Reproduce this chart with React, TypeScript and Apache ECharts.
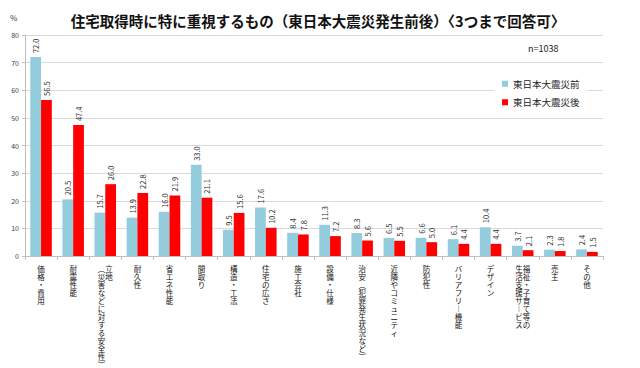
import React, { useEffect, useRef } from "react";
import * as echarts from "echarts";

const titleText = "住宅取得時に特に重視するもの（東日本大震災発生前後）〈3つまで回答可〉";
const sampleNote = "n=1038";
const unitLabel = "%";
const seriesNames = ["東日本大震災前", "東日本大震災後"];
const categories = [
  "価格・費用",
  "耐震性能",
  "立地\n（災害などに対する安全性）",
  "耐久性",
  "省エネ性能",
  "間取り",
  "構造・工法",
  "住宅の広さ",
  "施工会社",
  "設備・仕様",
  "治安（犯罪発生状況など）",
  "近隣やコミュニティ",
  "防犯性",
  "バリアフリー機能",
  "デザイン",
  "福祉・子育て等の\n生活支援サービス",
  "売主",
  "その他",
];
const beforeValues = [72.0, 20.5, 15.7, 13.9, 16.0, 33.0, 9.5, 17.6, 8.4, 11.3, 8.3, 6.5, 6.6, 6.1, 10.4, 3.7, 2.3, 2.4];
const afterValues = [56.5, 47.4, 26.0, 22.8, 21.9, 21.1, 15.6, 10.2, 7.8, 7.2, 5.6, 5.5, 5.0, 4.4, 4.4, 2.1, 1.8, 1.5];

const verticalMap: Record<string, string> = {
  "（": "︵",
  "）": "︶",
  "ー": "︱",
};

function toVertical(label: string): string {
  const cols = label.split("\n").map((c) => Array.from(c).map((ch) => verticalMap[ch] || ch));
  const rows = Math.max(...cols.map((c) => c.length));
  const lines: string[] = [];
  for (let i = 0; i < rows; i++) {
    if (cols.length === 1) {
      lines.push(cols[0][i]);
    } else {
      const right = cols[0][i] || "　";
      const left = cols[1][i] || "　";
      lines.push(left + right);
    }
  }
  return lines.join("\n");
}

const FONT = "'Noto Sans CJK JP', 'Noto Sans', sans-serif";

export default function App() {
  const ref = useRef<HTMLDivElement>(null);
  useEffect(() => {
    if (!ref.current) return;
    const chart = echarts.init(ref.current, undefined, { renderer: "svg" });
    const valueLabel = {
      show: true,
      position: "top" as const,
      rotate: 90,
      align: "left" as const,
      verticalAlign: "middle" as const,
      distance: 4,
      fontSize: 7.5,
      color: "#333",
      fontFamily: FONT,
      formatter: (p: any) => Number(p.value).toFixed(1),
    };
    chart.setOption({
      animation: false,
      backgroundColor: "#fff",
      textStyle: { fontFamily: FONT },
      title: {
        text: titleText,
        left: 313,
        textAlign: "center",
        top: 8,
        textStyle: { fontSize: 14.5, fontWeight: "bold", color: "#111", fontFamily: FONT },
      },
      graphic: [
        {
          type: "text",
          left: 10,
          top: 13,
          style: { text: unitLabel, fontSize: 8, fill: "#444", fontFamily: FONT },
        },
        {
          type: "text",
          left: 528,
          top: 44,
          style: { text: sampleNote, fontSize: 9, fill: "#222", fontFamily: FONT },
        },
      ],
      legend: {
        orient: "vertical",
        left: 494,
        top: 74,
        data: seriesNames,
        icon: "rect",
        itemWidth: 6,
        itemHeight: 6,
        itemGap: 9,
        backgroundColor: "#fff",
        padding: [5, 8, 5, 8],
        textStyle: { fontSize: 9.5, color: "#222", fontFamily: FONT },
      },
      grid: { left: 25, right: 37, top: 35, bottom: 101, containLabel: false },
      xAxis: {
        type: "category",
        data: categories,
        axisLine: { lineStyle: { color: "#bfbfbf" } },
        axisTick: { show: true, length: 4, lineStyle: { color: "#bfbfbf" } },
        axisLabel: {
          interval: 0,
          rotate: 0,
          hideOverlap: false,
          fontSize: 7.5,
          lineHeight: 8,
          color: "#111",
          margin: 8,
          verticalAlign: "top",
          align: "center",
          fontFamily: FONT,
          formatter: (v: string) => toVertical(v),
        },
      },
      yAxis: {
        type: "value",
        min: 0,
        max: 80,
        interval: 10,
        axisLine: { show: true, lineStyle: { color: "#bfbfbf" } },
        axisTick: { show: true, length: 3, lineStyle: { color: "#bfbfbf" } },
        axisLabel: { fontSize: 7, color: "#444", margin: 6, fontFamily: FONT },
        splitLine: { lineStyle: { color: "#d9d9d9", width: 1 } },
      },
      series: [
        {
          name: seriesNames[0],
          type: "bar",
          data: beforeValues,
          barGap: "0%",
          barCategoryGap: "33%",
          itemStyle: { color: "#93CDDD" },
          label: valueLabel,
        },
        {
          name: seriesNames[1],
          type: "bar",
          data: afterValues,
          barGap: "0%",
          barCategoryGap: "33%",
          itemStyle: { color: "#FF0000" },
          label: valueLabel,
        },
      ],
    });
    return () => chart.dispose();
  }, []);
  return (
    <div
      ref={ref}
      style={{ position: "fixed", left: 0, top: 0, width: 640, height: 368 }}
    />
  );
}
